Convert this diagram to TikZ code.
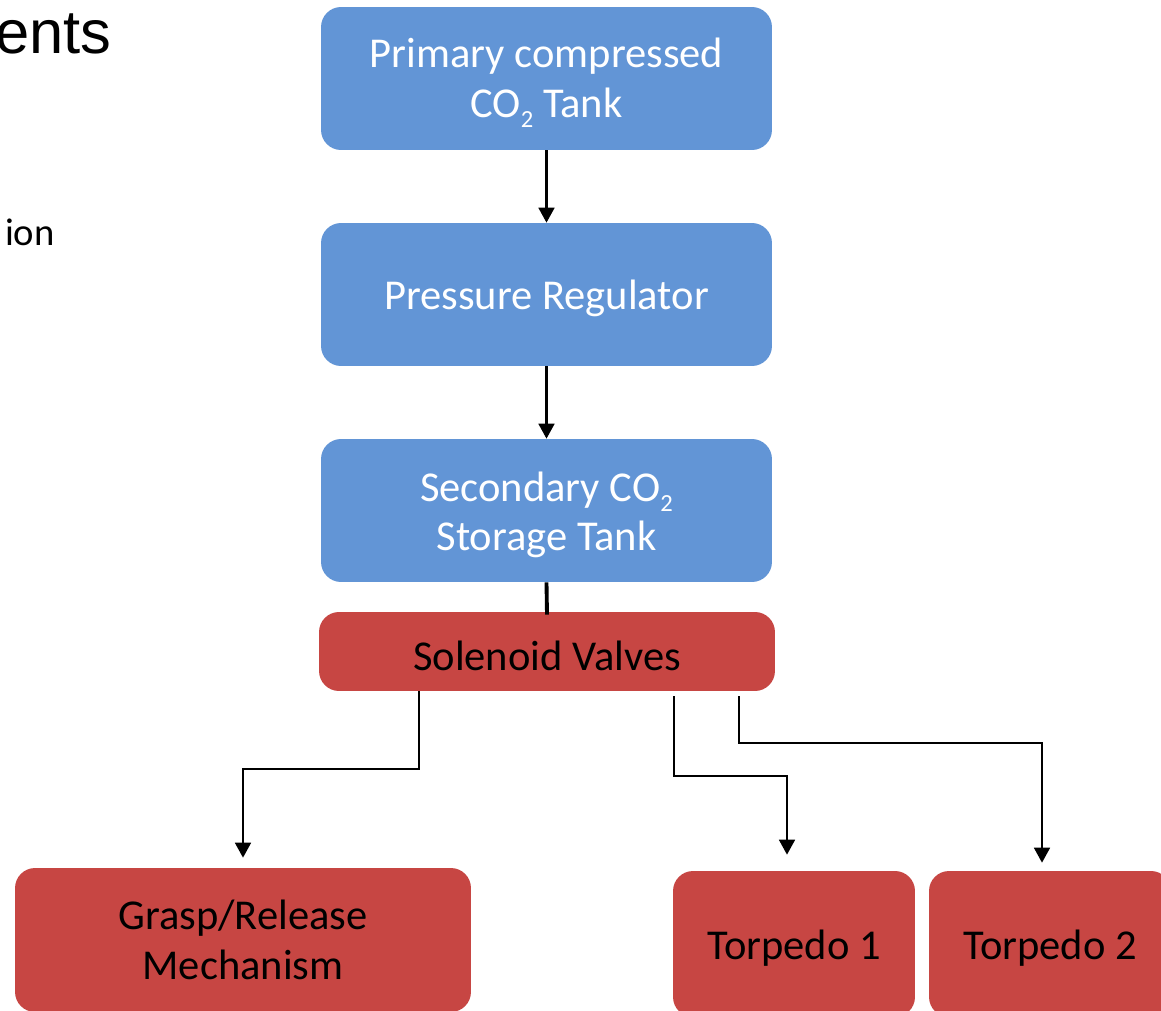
\documentclass[tikz,border=0pt]{standalone}
\usepackage{fontspec}
\setmainfont{Carlito}
\newfontfamily\arialfont{Liberation Sans}
\usetikzlibrary{arrows.meta,calc}
\definecolor{boxblue}{HTML}{6295D6}
\definecolor{boxred}{HTML}{C74643}
\newcommand{\tstrut}{\rule{0pt}{0.9em}}
\newcommand{\subtwo}{\raisebox{-0.24em}{\fontsize{14pt}{14pt}\selectfont 2}}
\begin{document}
\begin{tikzpicture}[x=0.02cm,y=-0.02cm,
  bluebox/.style={rectangle,rounded corners=0.4cm,fill=boxblue,draw=none,text=white,
    minimum width=9.02cm,minimum height=2.86cm,inner sep=0pt,align=center,
    font=\fontsize{24.2pt}{28.4pt}\selectfont},
  redbox/.style={rectangle,rounded corners=0.4cm,fill=boxred,draw=none,text=black,
    inner sep=0pt,align=center,font=\fontsize{24.2pt}{28.4pt}\selectfont},
  arr/.style={line width=1.2pt,-{Triangle[width=9pt,length=8.5pt]}}]
\useasboundingbox (0,0) rectangle (1161,1011);
\clip (0,0) rectangle (1161,1011);
\fill[white] (0,0) rectangle (1161,1011);

\node[anchor=base east,inner sep=0pt,font=\arialfont\fontsize{35pt}{40pt}\selectfont] (title) at (112,53) {ents};
\node[anchor=base east,inner sep=0pt,font=\fontsize{22pt}{26pt}\selectfont] (bullet) at (55,245) {ion};

\node[bluebox] (prim) at (546.5,78.5) {\tstrut Primary compressed\\CO\subtwo{} Tank};
\node[bluebox] (press) at (546.5,294.5) {\tstrut Pressure Regulator};
\node[bluebox] (sec) at (546.5,510.5) {\tstrut Secondary CO\subtwo\\Storage Tank};
\node[redbox,minimum width=9.12cm,minimum height=1.58cm] (sol) at (547,651.5) {\tstrut Solenoid Valves};
\node[redbox,minimum width=9.12cm,minimum height=2.88cm] (grasp) at (243,940) {Grasp/Release\\Mechanism};
\node[redbox,minimum width=4.84cm,minimum height=2.92cm] (t1) at (794,944) {\tstrut Torpedo 1};
\node[redbox,minimum width=4.84cm,minimum height=2.92cm] (t2) at (1050,944) {\tstrut Torpedo 2};

\draw[arr] (prim.south) -- (press.north);
\draw[arr] (press.south) -- (sec.north);
\draw[line width=2.2pt] (sec.south) -- ([yshift=-0.06cm]sol.north);

\draw[arr,shorten >=0.2cm] ([xshift=2cm]sol.south west) -- ++(0,78) -| (grasp.north);
\draw[arr,shorten >=0.32cm] ([xshift=7.1cm,yshift=-0.1cm]sol.south west) -- ++(0,80) -| ([xshift=-0.14cm]t1.north);
\draw[arr,shorten >=0.16cm] ([xshift=8.4cm,yshift=-0.1cm]sol.south west) -- ++(0,47) -| ([xshift=-0.16cm]t2.north);
\end{tikzpicture}
\end{document}
